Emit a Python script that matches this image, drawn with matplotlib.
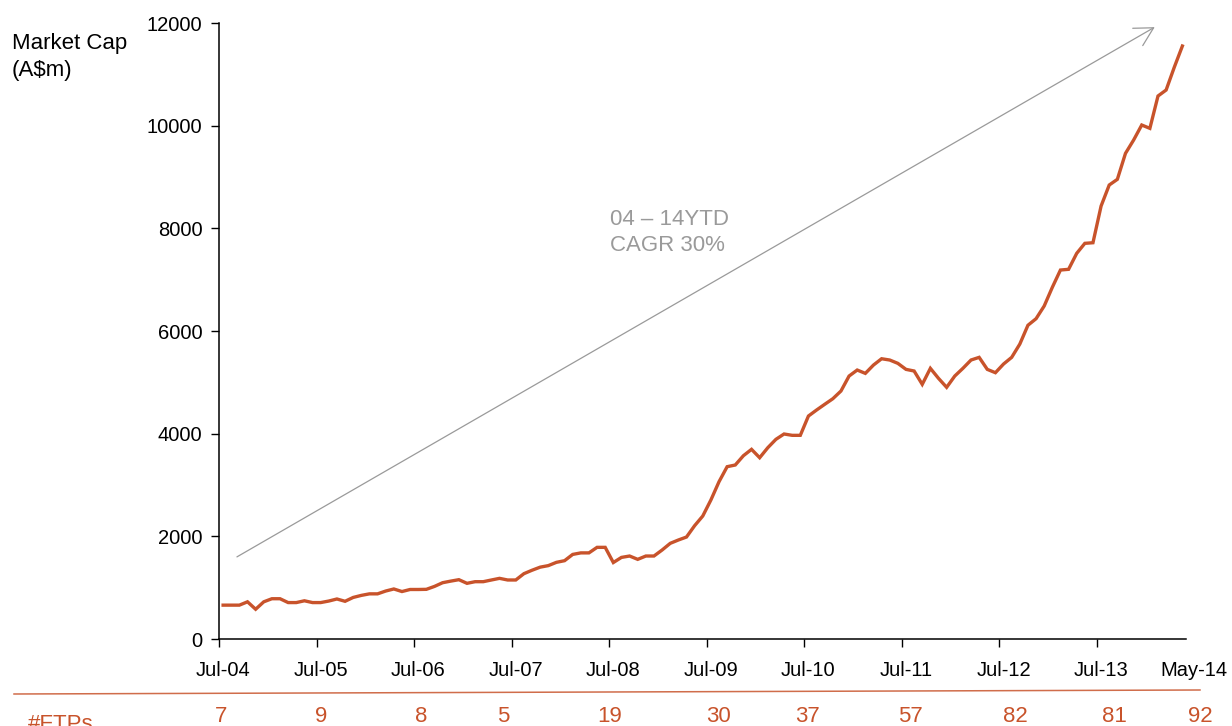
import numpy as np
import matplotlib
matplotlib.use("Agg")
import matplotlib.pyplot as plt
from matplotlib.transforms import blended_transform_factory

plt.rcParams['font.family'] = ['Liberation Sans', 'DejaVu Sans']

# === Daten: monatliche Marktkapitalisierung (A$m), Jul-04 .. May-14 ===
market_cap = [
    660, 660, 660, 725, 580, 725, 785, 785, 710, 710,
    745, 710, 710, 740, 780, 735, 810, 850, 880, 880,
    935, 975, 925, 965, 965, 968, 1025, 1097, 1128, 1156,
    1085, 1117, 1117, 1150, 1182, 1150, 1150, 1273, 1340, 1400,
    1430, 1494, 1526, 1648, 1678, 1678, 1786, 1786, 1490, 1590,
    1617, 1552, 1617, 1617, 1734, 1864, 1929, 1987, 2208, 2396,
    2708, 3064, 3357, 3390, 3571, 3695, 3532, 3727, 3890, 3994,
    3968, 3968, 4344, 4461, 4572, 4681, 4831, 5123, 5240, 5175,
    5337, 5460, 5435, 5370, 5253, 5221, 4961, 5273, 5078, 4903,
    5123, 5273, 5435, 5487, 5253, 5188, 5357, 5487, 5745, 6112,
    6240, 6487, 6851, 7188, 7202, 7513, 7708, 7720, 8435, 8844,
    8955, 9461, 9720, 10013, 9948, 10578, 10695, 11137, 11552,
]
year_labels = ['Jul-04', 'Jul-05', 'Jul-06', 'Jul-07', 'Jul-08',
               'Jul-09', 'Jul-10', 'Jul-11', 'Jul-12', 'Jul-13']
last_label = 'May-14'
ftp_counts = [7, 9, 8, 5, 19, 30, 37, 57, 82, 81, 92]
ftp_x = [-0.2, 12.0, 24.4, 34.5, 47.6, 60.9, 71.9, 84.6, 97.5, 109.6, 120.2]  # Lage der Zahlen (Monatsindex)

# Pfeil (Monatsindex, Wert) und Beschriftung
arrow_start = (1.7, 1600)
arrow_end = (114.6, 11920)
cagr_text = '04 \u2013 14YTD\nCAGR 30%'

ORANGE = '#C8532B'
GREY = '#9a9a9a'

fig = plt.figure(figsize=(12.32, 7.26), dpi=100)
ax = fig.add_axes([0.1778, 0.1198, 0.7849, 0.8485])

x = np.arange(len(market_cap))
ax.plot(x, market_cap, color=ORANGE, lw=2.4, solid_joinstyle='miter')

ax.set_xlim(-0.5, 118.45)
ax.set_ylim(0, 12000)
ax.set_yticks(range(0, 12001, 2000))
ax.tick_params(axis='y', labelsize=14.5, length=6, width=1, pad=6, direction='out')

# Kategorie-Achse: Striche an den Grenzen, Beschriftung in der Mitte
ax.set_xticks([12 * k - 0.5 for k in range(len(year_labels))], minor=True)
ax.set_xticks([12 * k for k in range(len(year_labels))])
ax.set_xticklabels(year_labels)
ax.tick_params(axis='x', which='major', length=0, labelsize=14.5, pad=16)
ax.tick_params(axis='x', which='minor', length=6, width=1, direction='out')

trans = blended_transform_factory(ax.transData, ax.transAxes)
ax.text(119.4, -0.0515, last_label, transform=trans, ha='center', va='center',
        fontsize=14.5, clip_on=False)

for s in ['top', 'right']:
    ax.spines[s].set_visible(False)
for s in ['left', 'bottom']:
    ax.spines[s].set_linewidth(1.1)

ax.annotate('', xy=arrow_end, xytext=arrow_start,
            arrowprops=dict(arrowstyle='->,head_length=0.55,head_width=0.3',
                            color=GREY, lw=0.9, mutation_scale=24,
                            shrinkA=0, shrinkB=0))
ax.text(47.6, 8380, cagr_text, ha='left', va='top', fontsize=16,
        color=GREY, linespacing=1.3)

fig.text(12 / 1232, 1 - 33 / 726, 'Market Cap\n(A\\$m)', ha='left', va='top',
         fontsize=16, linespacing=1.35)

# Trennlinie und #FTPs-Zeile
fig.add_artist(plt.Line2D([14 / 1232, 1200 / 1232], [1 - 694 / 726, 1 - 690 / 726],
                          transform=fig.transFigure, color=ORANGE, lw=1.1, alpha=0.85))
fig.text(28 / 1232, 1 - 730 / 726, '#FTPs', ha='left', va='baseline',
         fontsize=16, color=ORANGE)
for xi, n in zip(ftp_x, ftp_counts):
    ax.text(xi, 1 - 722 / 726, str(n), transform=blended_transform_factory(ax.transData, fig.transFigure),
            ha='center', va='baseline', fontsize=16, color=ORANGE, clip_on=False)

fig.savefig('out.png', dpi=100)
